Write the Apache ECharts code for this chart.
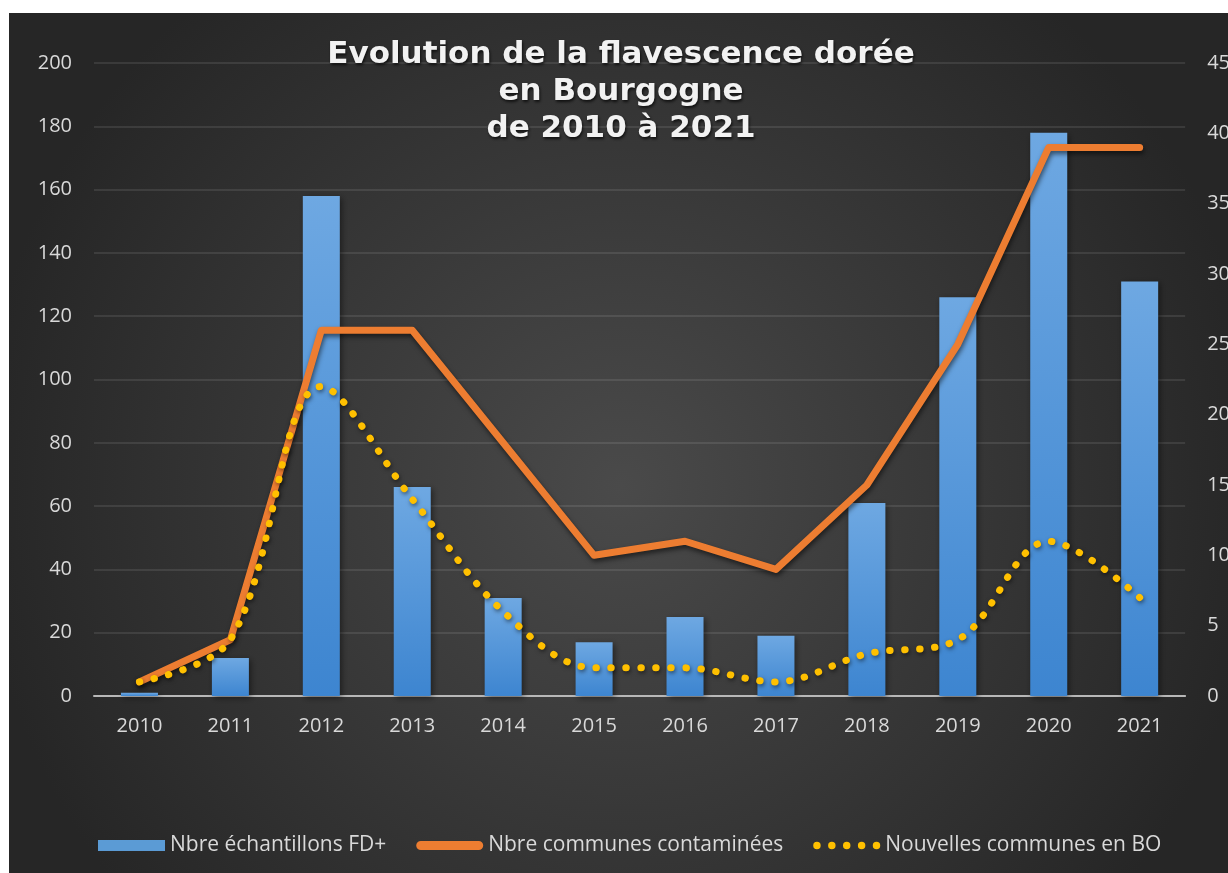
<!DOCTYPE html>
<html>
<head>
<meta charset="utf-8">
<script src="https://cdn.jsdelivr.net/npm/echarts@6/dist/echarts.min.js"></script>
<style>
html,body{margin:0;padding:0;background:#ffffff;overflow:hidden;width:1228px;height:873px;}
#chart{position:absolute;left:9px;top:13px;width:1224px;height:860px;}
</style>
</head>
<body>
<div id="chart"></div>
<script>
const years = ['2010','2011','2012','2013','2014','2015','2016','2017','2018','2019','2020','2021'];
const echantillonsFD = [1, 12, 158, 66, 31, 17, 25, 19, 61, 126, 178, 131];
const communesContaminees = [1, 4, 26, 26, 18, 10, 11, 9, 15, 25, 39, 39];
const nouvellesCommunesBO = [1, 4, 22, 14, 6, 2, 2, 1, 3, 4, 11, 7];
const leftTicks = {min: 0, max: 200, interval: 20};
const rightTicks = {min: 0, max: 45, interval: 5};
const titleText = 'Evolution de la flavescence dorée\nen Bourgogne\nde 2010 à 2021';
const seriesNames = ['Nbre échantillons FD+', 'Nbre communes contaminées', 'Nouvelles communes en BO'];

const chart = echarts.init(document.getElementById('chart'));
const labelColor = '#d9d9d9';
const labelFont = '"Open Sans", sans-serif';

const capsuleIcon = 'path://M5,1 L62,1 A4.5,4.5 0 0 1 62,10 L5,10 A4.5,4.5 0 0 1 5,1 Z';
const dotsIcon = 'path://' + [5.5, 19.5, 33.5, 47.5, 61.5].map(function (cx) {
  return 'M' + (cx - 3.5) + ',5.5 A3.5,3.5 0 1 0 ' + (cx + 3.5) + ',5.5 A3.5,3.5 0 1 0 ' + (cx - 3.5) + ',5.5 Z';
}).join(' ');

chart.setOption({
  animation: false,
  backgroundColor: {
    type: 'radial', x: 0.5, y: 0.55, r: 0.75,
    colorStops: [{offset: 0, color: '#4a4a4a'}, {offset: 1, color: '#262626'}]
  },
  title: {
    text: titleText,
    left: 'center',
    top: 18,
    textStyle: {
      fontFamily: '"DejaVu Sans", sans-serif',
      fontWeight: 'bold',
      fontSize: 31,
      lineHeight: 37,
      color: '#f2f2f2',
      textShadowColor: 'rgba(0,0,0,0.7)',
      textShadowBlur: 3,
      textShadowOffsetX: 1,
      textShadowOffsetY: 2
    }
  },
  legend: {
    left: 84,
    top: 817,
    itemWidth: 67,
    itemHeight: 11,
    itemGap: 30,
    textStyle: {color: labelColor, fontFamily: labelFont, fontSize: 21},
    data: [
      {name: seriesNames[0], icon: 'rect', itemStyle: {color: '#5b9bd5', shadowBlur: 0, shadowOffsetX: 0, shadowOffsetY: 0}},
      {name: seriesNames[1], icon: capsuleIcon, itemStyle: {color: '#ed7d31', shadowBlur: 0, shadowOffsetX: 0, shadowOffsetY: 0}},
      {name: seriesNames[2], icon: dotsIcon, itemStyle: {color: '#ffc000', shadowBlur: 0, shadowOffsetX: 0, shadowOffsetY: 0}}
    ]
  },
  grid: {left: 85, right: 45, top: 50, bottom: 177},
  xAxis: {
    type: 'category',
    data: years,
    axisTick: {show: false},
    axisLine: {lineStyle: {color: '#b8b8b8', width: 2}},
    axisLabel: {color: labelColor, fontFamily: labelFont, fontSize: 20, margin: 20}
  },
  yAxis: [
    {
      type: 'value', min: leftTicks.min, max: leftTicks.max, interval: leftTicks.interval,
      axisLine: {show: false}, axisTick: {show: false},
      axisLabel: {color: labelColor, fontFamily: labelFont, fontSize: 20, margin: 22},
      splitLine: {lineStyle: {color: 'rgba(255,255,255,0.13)', width: 1.5}}
    },
    {
      type: 'value', min: rightTicks.min, max: rightTicks.max, interval: rightTicks.interval,
      axisLine: {show: false}, axisTick: {show: false},
      axisLabel: {color: labelColor, fontFamily: labelFont, fontSize: 20, margin: 22},
      splitLine: {show: false}
    }
  ],
  series: [
    {
      name: seriesNames[0],
      type: 'bar',
      yAxisIndex: 0,
      data: echantillonsFD,
      barWidth: 37,
      itemStyle: {
        color: {
          type: 'linear', x: 0, y: 0, x2: 0, y2: 1,
          colorStops: [{offset: 0, color: '#6ea8e2'}, {offset: 1, color: '#3d85d0'}]
        },
        shadowColor: 'rgba(0,0,0,0.45)',
        shadowBlur: 6,
        shadowOffsetX: 2,
        shadowOffsetY: 2
      }
    },
    {
      name: seriesNames[1],
      type: 'line',
      yAxisIndex: 1,
      data: communesContaminees,
      symbol: 'none',
      lineStyle: {
        color: '#ed7d31', width: 7, cap: 'round', join: 'round',
        shadowColor: 'rgba(0,0,0,0.55)', shadowBlur: 5, shadowOffsetX: 1, shadowOffsetY: 3
      },
      itemStyle: {color: '#ed7d31'}
    },
    {
      name: seriesNames[2],
      type: 'line',
      yAxisIndex: 1,
      data: nouvellesCommunesBO,
      symbol: 'none',
      smooth: 0.35,
      lineStyle: {
        color: '#ffc000', width: 7, type: [0.5, 14.5], cap: 'round',
        shadowColor: 'rgba(0,0,0,0.5)', shadowBlur: 4, shadowOffsetX: 1, shadowOffsetY: 2
      },
      itemStyle: {color: '#ffc000'}
    }
  ]
});
</script>
</body>
</html>
